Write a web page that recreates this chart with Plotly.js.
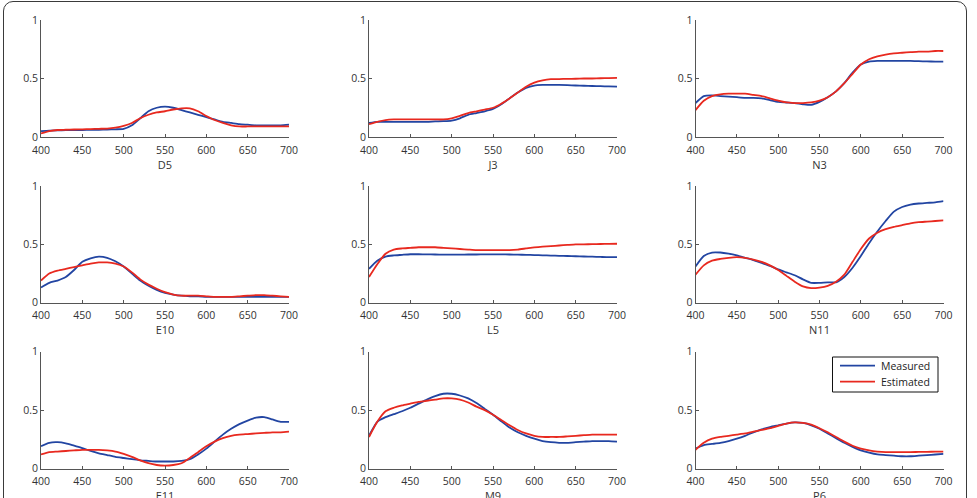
<!DOCTYPE html>
<html>
<head>
<meta charset="utf-8">
<script src="https://cdn.plot.ly/plotly-3.0.1.min.js"></script>
<style>
  html, body { margin: 0; padding: 0; background: #fff; overflow: hidden; width: 977px; height: 498px; }
  #chart { position: absolute; left: 0; top: 0; width: 977px; height: 520px; }
  #frame { position: absolute; left: 3px; top: 1px; width: 964px; height: 530px;
           border: 1.5px solid #3a3a3a; border-radius: 10px; box-sizing: border-box;
           pointer-events: none; }
</style>
</head>
<body>
<div id="chart"></div>
<div id="frame"></div>
<script>
// Wavelength grid (nm)
const wavelength = [400,410,420,430,440,450,460,470,480,490,500,510,520,530,540,550,560,570,580,590,600,610,620,630,640,650,660,670,680,690,700];

// Sample names, row by row
const samples = ["D5","J3","N3","E10","L5","N11","E11","M9","P6"];

// Series names
const seriesNames = ["Measured", "Estimated"];

// Measured reflectance
const measD5  = [0.05,0.055,0.057,0.058,0.059,0.06,0.061,0.062,0.064,0.066,0.07,0.10,0.16,0.22,0.25,0.26,0.25,0.23,0.21,0.19,0.17,0.15,0.13,0.12,0.11,0.105,0.10,0.10,0.10,0.10,0.105];
const measJ3  = [0.12,0.13,0.13,0.13,0.13,0.13,0.13,0.13,0.133,0.135,0.14,0.16,0.19,0.205,0.22,0.24,0.28,0.33,0.38,0.42,0.44,0.445,0.445,0.445,0.443,0.44,0.438,0.436,0.434,0.432,0.43];
const measN3  = [0.29,0.35,0.355,0.35,0.345,0.34,0.335,0.335,0.33,0.315,0.30,0.295,0.29,0.28,0.275,0.30,0.34,0.39,0.46,0.55,0.62,0.645,0.65,0.65,0.65,0.65,0.65,0.648,0.646,0.645,0.645];
const measE10 = [0.13,0.17,0.19,0.22,0.28,0.35,0.38,0.395,0.385,0.355,0.31,0.25,0.19,0.145,0.11,0.085,0.07,0.06,0.055,0.055,0.05,0.05,0.05,0.05,0.05,0.05,0.05,0.05,0.05,0.05,0.05];
const measL5  = [0.29,0.36,0.395,0.405,0.41,0.415,0.415,0.414,0.413,0.412,0.412,0.412,0.413,0.413,0.414,0.414,0.414,0.413,0.412,0.41,0.408,0.406,0.404,0.402,0.40,0.398,0.396,0.394,0.392,0.39,0.39];
const measN11 = [0.31,0.40,0.43,0.43,0.42,0.405,0.385,0.365,0.34,0.315,0.285,0.26,0.235,0.20,0.17,0.17,0.175,0.175,0.22,0.30,0.40,0.51,0.61,0.70,0.78,0.82,0.84,0.85,0.855,0.86,0.87];
const measE11 = [0.19,0.22,0.225,0.215,0.195,0.175,0.15,0.13,0.115,0.10,0.09,0.08,0.07,0.065,0.06,0.06,0.06,0.065,0.08,0.12,0.17,0.23,0.29,0.34,0.38,0.41,0.435,0.44,0.42,0.40,0.40];
const measM9  = [0.28,0.40,0.44,0.465,0.49,0.52,0.555,0.59,0.62,0.64,0.64,0.625,0.60,0.56,0.51,0.46,0.405,0.35,0.31,0.28,0.255,0.235,0.225,0.22,0.22,0.225,0.23,0.235,0.235,0.235,0.23];
const measP6  = [0.17,0.20,0.21,0.22,0.235,0.255,0.28,0.31,0.335,0.355,0.37,0.385,0.395,0.39,0.37,0.34,0.30,0.26,0.22,0.185,0.155,0.135,0.12,0.115,0.11,0.105,0.105,0.11,0.115,0.12,0.125];

// Estimated reflectance
const estD5  = [0.03,0.05,0.06,0.062,0.064,0.066,0.068,0.07,0.072,0.08,0.095,0.12,0.16,0.19,0.21,0.22,0.235,0.245,0.245,0.22,0.18,0.145,0.12,0.10,0.09,0.09,0.09,0.09,0.09,0.09,0.09];
const estJ3  = [0.11,0.13,0.145,0.15,0.15,0.15,0.15,0.15,0.15,0.15,0.16,0.18,0.205,0.22,0.235,0.25,0.285,0.33,0.38,0.43,0.465,0.485,0.495,0.495,0.497,0.498,0.5,0.5,0.502,0.503,0.505];
const estN3  = [0.23,0.31,0.35,0.365,0.37,0.37,0.37,0.36,0.35,0.33,0.31,0.295,0.29,0.29,0.295,0.31,0.34,0.39,0.46,0.54,0.62,0.665,0.69,0.705,0.715,0.72,0.725,0.73,0.73,0.735,0.735];
const estE10 = [0.19,0.25,0.275,0.29,0.305,0.32,0.335,0.345,0.345,0.335,0.31,0.26,0.20,0.155,0.12,0.09,0.07,0.06,0.06,0.06,0.055,0.05,0.05,0.05,0.055,0.06,0.065,0.065,0.06,0.055,0.05];
const estL5  = [0.22,0.33,0.42,0.455,0.465,0.47,0.475,0.475,0.475,0.47,0.465,0.46,0.455,0.45,0.45,0.45,0.45,0.45,0.455,0.465,0.475,0.48,0.485,0.49,0.495,0.50,0.50,0.502,0.503,0.504,0.505];
const estN11 = [0.24,0.32,0.36,0.375,0.385,0.39,0.385,0.37,0.35,0.32,0.28,0.23,0.18,0.14,0.125,0.13,0.145,0.18,0.24,0.35,0.46,0.55,0.60,0.63,0.65,0.665,0.68,0.69,0.695,0.70,0.705];
const estE11 = [0.12,0.14,0.145,0.15,0.155,0.16,0.16,0.16,0.155,0.145,0.125,0.10,0.07,0.045,0.03,0.025,0.03,0.045,0.09,0.14,0.19,0.23,0.26,0.28,0.29,0.295,0.30,0.305,0.31,0.31,0.315];
const estM9  = [0.27,0.40,0.49,0.52,0.54,0.555,0.57,0.58,0.59,0.60,0.60,0.59,0.565,0.53,0.50,0.46,0.415,0.37,0.33,0.30,0.28,0.27,0.27,0.27,0.275,0.28,0.285,0.29,0.29,0.29,0.29];
const estP6  = [0.16,0.22,0.255,0.27,0.28,0.29,0.30,0.315,0.33,0.345,0.365,0.385,0.395,0.39,0.375,0.345,0.31,0.27,0.23,0.195,0.17,0.155,0.145,0.14,0.14,0.14,0.14,0.142,0.143,0.144,0.145];

const measured  = [measD5, measJ3, measN3, measE10, measL5, measN11, measE11, measM9, measP6];
const estimated = [estD5, estJ3, estN3, estE10, estL5, estN11, estE11, estM9, estP6];

const xTicks = [400,450,500,550,600,650,700];
const yTicks = [0, 0.5, 1];
const yTickText = ["0","0.5","1"];

const blue = "#2245a2";
const red = "#e8291f";
const axisColor = "#555555";
const family = "Open Sans, sans-serif";
const tickFont = { family: family, size: 10.5, color: "#333333" };

// Canvas is a little taller than the visible page so the bottom-row
// axis titles sit at their natural distance and run off the lower edge.
const W = 977, H = 520;
const colPx = [[41, 289], [369, 617], [695.5, 943.5]];
const rowPx = [[20, 137], [186, 302.7], [351.7, 468.5]];

const traces = [];
const layout = {
  width: W, height: H,
  margin: { l: 0, r: 0, t: 0, b: 0 },
  paper_bgcolor: "#ffffff",
  plot_bgcolor: "rgba(0,0,0,0)",
  font: tickFont,
  showlegend: false,
  shapes: [],
  annotations: []
};

samples.forEach((name, i) => {
  const r = Math.floor(i / 3), c = i % 3;
  const n = i + 1;
  const xa = "x" + (n === 1 ? "" : n);
  const ya = "y" + (n === 1 ? "" : n);
  traces.push({
    x: wavelength, y: measured[i], xaxis: xa, yaxis: ya,
    type: "scatter", mode: "lines", name: seriesNames[0],
    line: { color: blue, width: 1.8, shape: "spline", smoothing: 0.6 },
    hoverinfo: "skip"
  });
  traces.push({
    x: wavelength, y: estimated[i], xaxis: xa, yaxis: ya,
    type: "scatter", mode: "lines", name: seriesNames[1],
    line: { color: red, width: 1.8, shape: "spline", smoothing: 0.6 },
    hoverinfo: "skip"
  });
  const key = n === 1 ? "" : String(n);
  layout["xaxis" + key] = {
    domain: [colPx[c][0] / W, colPx[c][1] / W],
    anchor: ya, range: [400, 700],
    tickvals: xTicks, ticks: "inside", ticklen: 3, tickcolor: axisColor,
    ticklabelstandoff: 3,
    showline: true, linecolor: axisColor, linewidth: 1,
    showgrid: false, zeroline: false, fixedrange: true,
    tickfont: tickFont,
    title: { text: name, font: { family: family, size: 11, color: "#333333" }, standoff: 0 }
  };
  layout["yaxis" + key] = {
    domain: [1 - rowPx[r][1] / H, 1 - rowPx[r][0] / H],
    anchor: xa, range: [0, 1],
    tickvals: yTicks, ticktext: yTickText, ticks: "inside", ticklen: 3, tickcolor: axisColor,
    showline: true, linecolor: axisColor, linewidth: 1,
    showgrid: false, zeroline: false, fixedrange: true,
    tickfont: tickFont
  };
});

// Boxed key in the lower-right panel (paper coordinates)
const keyBox = { x0: 832.5 / W, x1: 938 / W, y0: 1 - 392 / H, y1: 1 - 357 / H };
const keyRows = [1 - 365.7 / H, 1 - 381.7 / H];
const keyColors = [blue, red];
layout.shapes.push({
  type: "rect", xref: "paper", yref: "paper",
  x0: keyBox.x0, x1: keyBox.x1, y0: keyBox.y0, y1: keyBox.y1,
  line: { color: "#111111", width: 1 }, fillcolor: "#ffffff", layer: "above"
});
seriesNames.forEach((s, k) => {
  layout.shapes.push({
    type: "line", xref: "paper", yref: "paper",
    x0: 840 / W, x1: 875 / W, y0: keyRows[k], y1: keyRows[k],
    line: { color: keyColors[k], width: 1.8 }, layer: "above"
  });
  layout.annotations.push({
    xref: "paper", yref: "paper", x: 879 / W, y: keyRows[k],
    xanchor: "left", yanchor: "middle", showarrow: false,
    text: s, font: { family: family, size: 10.5, color: "#222222" }
  });
});

Plotly.newPlot("chart", traces, layout, { displayModeBar: false, staticPlot: true });
</script>
</body>
</html>
